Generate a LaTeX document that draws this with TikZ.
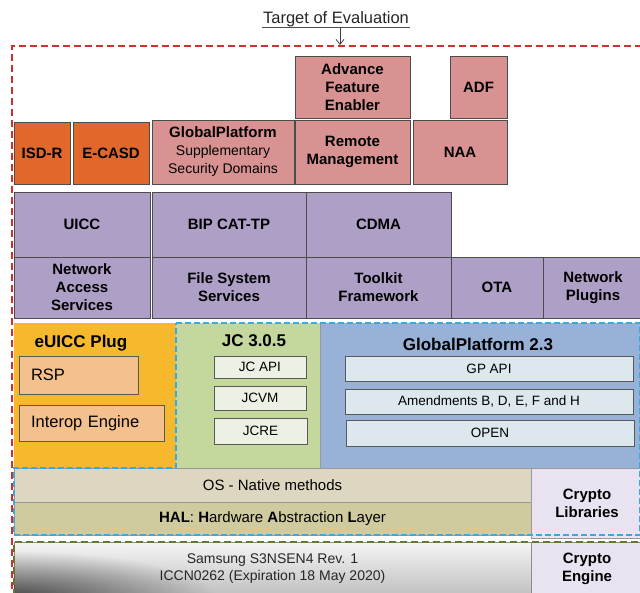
\documentclass[tikz,border=0pt]{standalone}
\usepackage{fontspec}
\setmainfont{Liberation Sans}
\usetikzlibrary{positioning, arrows.meta, fadings}

\definecolor{sdorange}{HTML}{E2672B}
\definecolor{apppink}{HTML}{D89292}
\definecolor{svcpurple}{HTML}{AE9FC6}
\definecolor{plugyellow}{HTML}{F6B92E}
\definecolor{rspfill}{HTML}{F4C08E}
\definecolor{jcgreen}{HTML}{C4D79C}
\definecolor{jcinner}{HTML}{EDF1E3}
\definecolor{gpblue}{HTML}{98B1D7}
\definecolor{gpinner}{HTML}{DCE8EE}
\definecolor{osbeige}{HTML}{DDD7C1}
\definecolor{halolive}{HTML}{D0CA9F}
\definecolor{cryptolav}{HTML}{E9E2F1}
\definecolor{toered}{HTML}{D0302C}
\definecolor{scopeblue}{HTML}{3AA9E1}
\definecolor{chipgreen}{HTML}{5F7A30}

\tikzfading[name=chipfade, inner color=transparent!25, outer color=transparent!100]

\tikzset{
  layer/.style={draw=black!70, line width=0.8pt, rectangle, anchor=north west,
    inner sep=0pt, outer sep=0pt, align=center,
    font=\fontsize{15}{18}\selectfont\bfseries},
  sdbox/.style={layer, fill=sdorange},
  appbox/.style={layer, fill=apppink},
  svcbox/.style={layer, fill=svcpurple},
  areabox/.style={layer, draw=none},
  inbox/.style={draw=black!65, line width=0.7pt, rectangle, anchor=north west,
    inner sep=0pt, outer sep=0pt, font=\fontsize{13.5}{15}\selectfont},
  plugitem/.style={inbox, fill=rspfill, text width=#1, align=left,
    font=\fontsize{16.5}{18}\selectfont},
  areatitle/.style={font=\fontsize{17}{19}\selectfont\bfseries},
  cryptobox/.style={layer, fill=cryptolav},
  dashline/.style={line width=1.6pt, dash pattern=on 7pt off 4pt}
}

\begin{document}
\begin{tikzpicture}[x=1pt, y=-1pt]
\useasboundingbox (0,0) rectangle (640,593);
\clip (0,0) rectangle (640,593);

% title of the TOE
\node[font=\fontsize{16.5}{18}\selectfont, text=black!85, inner sep=1pt] (toe) at (336,19) {Target of Evaluation};
\draw[black!70, line width=0.8pt] (toe.south west) -- (toe.south east);
\coordinate (toetop) at (340,45);

% applications and security domains
\node[appbox, minimum width=115pt, minimum height=62pt] (afe) at (295,56) {Advance\\Feature\\Enabler};
\node[appbox, minimum width=57pt, minimum height=62pt] (adf) at (450,56) {ADF};
\node[sdbox, minimum width=56pt, minimum height=62pt] (isdr) at (14,122) {ISD-R};
\node[sdbox, minimum width=76pt, minimum height=62pt] (ecasd) at (73,122) {E-CASD};
\node[appbox, minimum width=142pt, minimum height=64pt] (ssd) at (152,120)
  {GlobalPlatform\\{\mdseries\fontsize{14}{17}\selectfont Supplementary}\\{\mdseries\fontsize{14}{17}\selectfont Security Domains}};
\node[appbox, minimum width=115pt, minimum height=64pt] (rm) at (295,120) {Remote\\Management};
\node[appbox, minimum width=94pt, minimum height=64pt] (naa) at (413,120) {NAA};

% services
\node[svcbox, minimum width=136pt, minimum height=65pt] (uicc) at (14,192) {UICC};
\node[svcbox, minimum width=154pt, minimum height=65pt] (bip) at (152,192) {BIP CAT-TP};
\node[svcbox, minimum width=145pt, minimum height=65pt] (cdma) at (306,192) {CDMA};
\node[svcbox, minimum width=136pt, minimum height=61pt] (nas) at (14,257) {Network\\Access\\Services};
\node[svcbox, minimum width=154pt, minimum height=61pt] (fss) at (152,257) {File System\\Services};
\node[svcbox, minimum width=145pt, minimum height=61pt] (tkf) at (306,257) {Toolkit\\Framework};
\node[svcbox, minimum width=92pt, minimum height=61pt] (ota) at (451,257) {OTA};
\node[svcbox, minimum width=100pt, minimum height=61pt] (npl) at (543,257) {Network\\Plugins};

% eUICC plug, Java Card and GlobalPlatform
\node[areabox, fill=plugyellow, minimum width=162pt, minimum height=145pt] (euicc) at (14,323) {};
\node[areatitle] (plugtitle) at (81,343) {eUICC Plug};
\node[plugitem=95pt, minimum width=119pt, minimum height=38pt] (rsp) at (19,356) {RSP};
\node[plugitem=121pt, minimum width=145pt, minimum height=36pt] (interop) at (19,405) {Interop Engine};

\node[areabox, fill=jcgreen, minimum width=144pt, minimum height=145pt] (jc) at (176,323) {};
\node[areatitle] (jctitle) at (254,341) {JC 3.0.5};
\node[inbox, fill=jcinner, minimum width=92pt, minimum height=22pt] (jcapi) at (214,356) {JC API};
\node[inbox, fill=jcinner, minimum width=92pt, minimum height=24pt] (jcvm) at (214,386) {JCVM};
\node[inbox, fill=jcinner, minimum width=93pt, minimum height=26pt] (jcre) at (214,418) {JCRE};

\node[areabox, fill=gpblue, minimum width=320pt, minimum height=145pt] (gp) at (320,323) {};
\draw[black!40, line width=0.8pt] (gp.north west) -- (gp.south west);
\node[areatitle] (gptitle) at (478,344) {GlobalPlatform 2.3};
\node[inbox, fill=gpinner, minimum width=288pt, minimum height=25pt] (gpapi) at (345,356) {GP API};
\node[inbox, fill=gpinner, minimum width=288pt, minimum height=25pt] (amend) at (345,389) {Amendments B, D, E, F and H};
\node[inbox, fill=gpinner, minimum width=288pt, minimum height=26pt] (open) at (346,420) {OPEN};

% OS and HAL
\node[layer, draw=black!40, fill=osbeige, font=\fontsize{15}{17}\selectfont, minimum width=517pt, minimum height=34pt] (os) at (14,468) {OS - Native methods};
\node[layer, draw=black!40, fill=halolive, font=\fontsize{15}{17}\selectfont, minimum width=517pt, minimum height=33pt] (hal) at (14,502)
  {\textbf{HAL}: \textbf{H}ardware \textbf{A}bstraction \textbf{L}ayer};
\node[cryptobox, draw=black!40, minimum width=112pt, minimum height=70pt] (cryptolib) at (531,468) {Crypto\\Libraries};

% chip
\node[layer, draw=black!45, top color=gray!8, bottom color=gray!50,
  minimum width=517pt, minimum height=54pt] (chip) at (14,542) {};
\begin{scope}
  \clip (chip.south west) rectangle (chip.north east);
  \fill[black, path fading=chipfade, fill opacity=0.8]
    ([xshift=-200pt, yshift=45pt]chip.south west) rectangle ([xshift=200pt, yshift=-45pt]chip.south west);
\end{scope}
\node[font=\fontsize{14}{17}\selectfont, align=center, text=black!85] (chiptext) at (chip.center) {Samsung S3NSEN4 Rev. 1\\ICCN0262 (Expiration 18 May 2020)};
\node[cryptobox, draw=black!45, minimum width=112pt, minimum height=54pt] (engine) at (531,542) {Crypto\\Engine};

% scope lines
\draw[scopeblue, dashline, line width=1.5pt, dash pattern=on 6pt off 3pt]
  (jc.north west) -- (jc.north west -| gp.east) -- (hal.south west -| gp.east)
  -- (hal.south west) -- (euicc.south west) -- (euicc.south east) -- cycle;
\draw[chipgreen, dashline, line width=1.4pt]
  (chip.south west) -- (chip.north west) -- (chip.north west -| engine.east);
\draw[toered, dashline] (12,600) -- (12,46) -- (650,46);
\draw[black!75, line width=0.8pt, -{Straight Barb[length=5pt, width=8pt]}] (toe.south -| toetop) -- (toetop);
\end{tikzpicture}
\end{document}
